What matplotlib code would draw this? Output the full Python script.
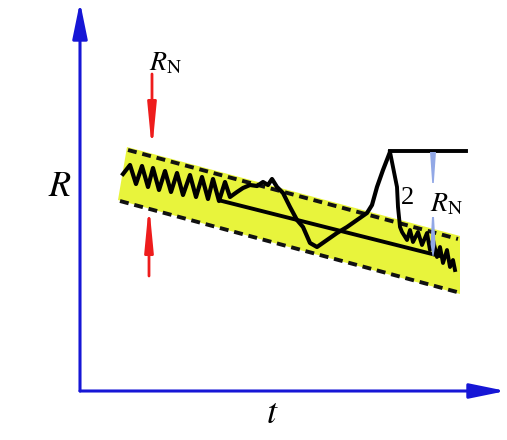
import matplotlib
matplotlib.use('Agg')
import matplotlib.pyplot as plt
from matplotlib.patches import Polygon

plt.rcParams['mathtext.fontset'] = 'stix'

# schematic drawn in picture units (x to the right, y downwards)
band_x = [127, 460, 460, 118]
band_y = [147, 236, 294, 200]
upper_dash_x = [128, 458]
upper_dash_y = [150, 239]
lower_dash_x = [120, 457]
lower_dash_y = [201, 292]
trend_x = [222, 440]
trend_y = [201, 256]

main_x = [123, 130, 136, 142, 148, 153, 159, 165, 171, 177, 183, 190, 196, 202,
          208, 213, 219, 225, 230, 237, 243, 250, 257, 263, 268, 272, 277, 283,
          290, 297, 303, 310, 317, 327, 337, 347, 357, 367, 372, 377, 383, 390]
main_y = [174, 165, 184, 166, 187, 168, 190, 171, 192, 173, 195, 175, 197, 177,
          199, 179, 201, 182, 197, 192, 188, 185, 186, 182, 185, 179, 187, 193,
          207, 220, 227, 243, 247, 240, 233, 227, 220, 213, 205, 187, 170, 152]
plateau_x = [390, 466]
plateau_y = [151, 151]

drop_x = [390, 393, 397, 398, 400, 402, 407, 410, 413, 418, 422, 427, 430, 433,
          437, 440, 443, 447, 450, 453, 455]
drop_y = [152, 167, 187, 207, 227, 232, 240, 230, 242, 232, 245, 233, 250, 240,
          257, 247, 263, 250, 267, 260, 270]

axis_origin = (80, 391)
y_axis_tip = (80, 2)
x_axis_tip = (506, 391)
red_arrows = [((152, 74), (152, 151)), ((149, 276), (149, 204))]
blue_marks = [(433, 152, 183), (433, 217, 256)]

fig = plt.figure(figsize=(5.07, 4.40), dpi=100)
ax = fig.add_axes([0, 0, 1, 1])
ax.set_xlim(0, 507)
ax.set_ylim(440, 0)
ax.axis('off')

ax.add_patch(Polygon(list(zip(band_x, band_y)), closed=True,
                     facecolor='#e8f43c', edgecolor='none', zorder=1))
for xs, ys in [(upper_dash_x, upper_dash_y), (lower_dash_x, lower_dash_y)]:
    ax.plot(xs, ys, color='#111111', lw=2.8, dashes=(2.3, 1.5), zorder=2)

ax.plot(trend_x, trend_y, color='black', lw=2.8, zorder=3)
ax.plot(main_x, main_y, color='black', lw=3.0, solid_joinstyle='round', zorder=3)
ax.plot(plateau_x, plateau_y, color='black', lw=2.8, zorder=3)
ax.plot(drop_x, drop_y, color='black', lw=2.8, solid_joinstyle='round', zorder=3)

# axes arrows
for tip in [y_axis_tip, x_axis_tip]:
    ax.annotate('', xy=tip, xytext=axis_origin,
                arrowprops=dict(arrowstyle='-|>,head_length=2.2,head_width=0.45',
                                color='#1616d6', lw=2.2, mutation_scale=10,
                                shrinkA=0, shrinkB=0), zorder=4)

for tail, tip in red_arrows:
    ax.annotate('', xy=tip, xytext=tail,
                arrowprops=dict(arrowstyle='-|>,head_length=2.6,head_width=0.25',
                                color='#ee1c1c', lw=2.0, mutation_scale=10,
                                shrinkA=0, shrinkB=0), zorder=4)

# light blue tapered marks for the right R_N
x0, ya, yb = blue_marks[0]
ax.add_patch(Polygon([(x0 - 3, ya), (x0 + 3, ya), (x0 + 0.8, yb), (x0 - 0.8, yb)],
                     closed=True, facecolor='#92a8e6', edgecolor='none', zorder=4))
x0, ya, yb = blue_marks[1]
ax.add_patch(Polygon([(x0 - 1, ya), (x0 + 1, ya), (x0 + 2.5, yb - 12),
                      (x0 + 0.5, yb), (x0 - 0.5, yb), (x0 - 2.5, yb - 12)],
                     closed=True, facecolor='#92a8e6', edgecolor='none', zorder=4))

ax.text(60, 186, r'$R$', fontsize=26, ha='center', va='center')
ax.text(272, 413, r'$t$', fontsize=26, ha='center', va='center')
ax.text(149, 62, r'$R_{\mathrm{N}}$', fontsize=20, ha='left', va='center')
ax.text(430, 203, r'$R_{\mathrm{N}}$', fontsize=20, ha='left', va='center')
ax.text(408, 198, '2', fontsize=19, family='Liberation Serif',
        ha='center', va='center')

fig.savefig('out.png', dpi=100)
